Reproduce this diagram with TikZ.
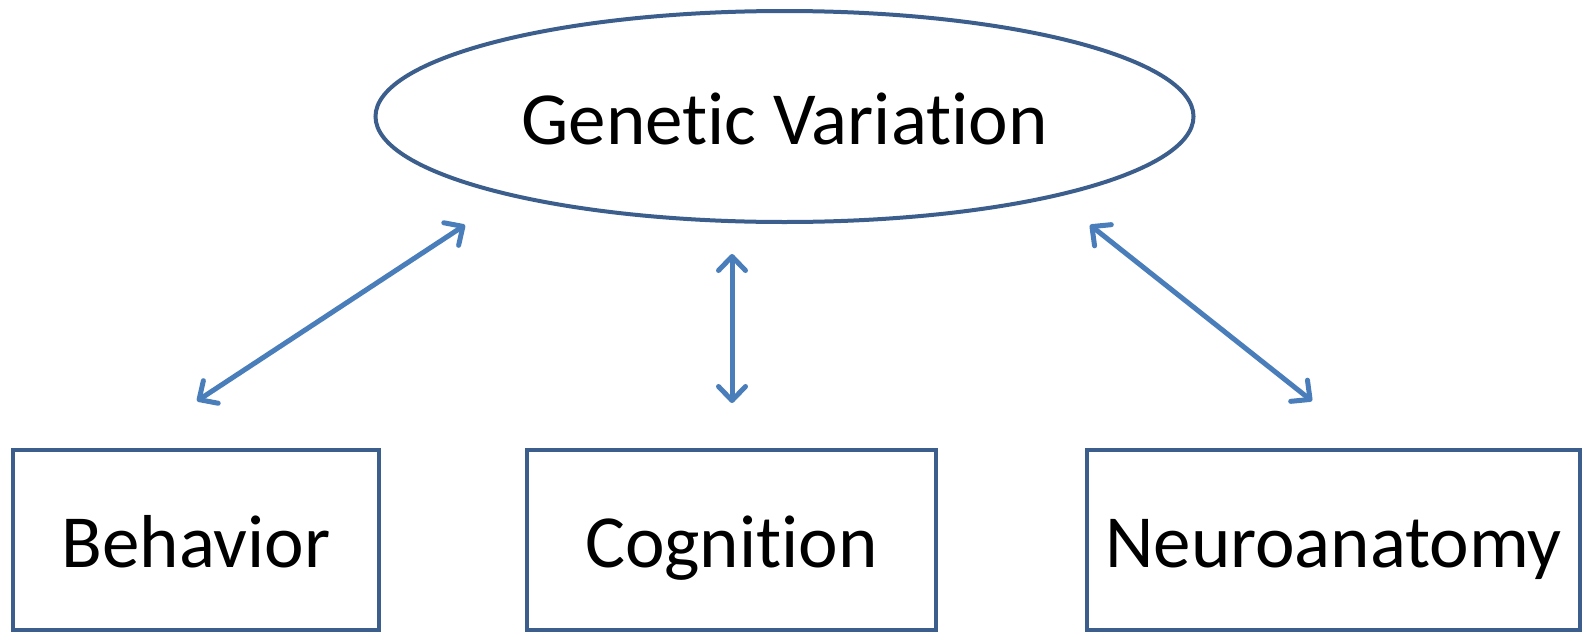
\documentclass[tikz,border=0pt]{standalone}
\usepackage{fontspec}
\setmainfont[Ligatures=NoCommon]{Carlito}
\usetikzlibrary{shapes.geometric,arrows.meta}
\definecolor{borderblue}{HTML}{3B5E8C}
\definecolor{arrowblue}{HTML}{4A7EBB}
\tikzset{
  frame/.style={draw=borderblue, line width=4pt, fill=white, inner sep=0pt,
    text height=55pt, text depth=0pt, font=\fontsize{75}{80}\selectfont},
  oval/.style={frame, ellipse, minimum width=818pt, minimum height=211pt},
  boxnode/.style={frame, rectangle, minimum height=180pt},
  link/.style={draw=arrowblue, line width=5pt, line cap=round,
    {Straight Barb[length=14pt,width=27pt,line cap=round,line join=round]}-{Straight Barb[length=14pt,width=27pt,line cap=round,line join=round]}}
}
\begin{document}
\begin{tikzpicture}[x=1pt,y=-1pt]
\useasboundingbox (0,0) rectangle (1589,632);
\node[oval] (gv) at (784.5,116.5) {Genetic Variation};
\node[boxnode, minimum width=366pt] (beh) at (196,540) {Behavior};
\node[boxnode, minimum width=409pt] (cog) at (731.5,540) {Cognition};
\node[boxnode, minimum width=493pt] (neu) at (1333.5,540) {Neuroanatomy};
\coordinate (a1) at (197,401);
\coordinate (a2) at (465,225);
\coordinate (c1) at (732,403);
\coordinate (c2) at (732,254);
\coordinate (n1) at (1312,401);
\coordinate (n2) at (1090,225);
\draw[link] (a1) -- (a2);
\draw[link] (c1) -- (c2);
\draw[link] (n1) -- (n2);
\end{tikzpicture}
\end{document}
